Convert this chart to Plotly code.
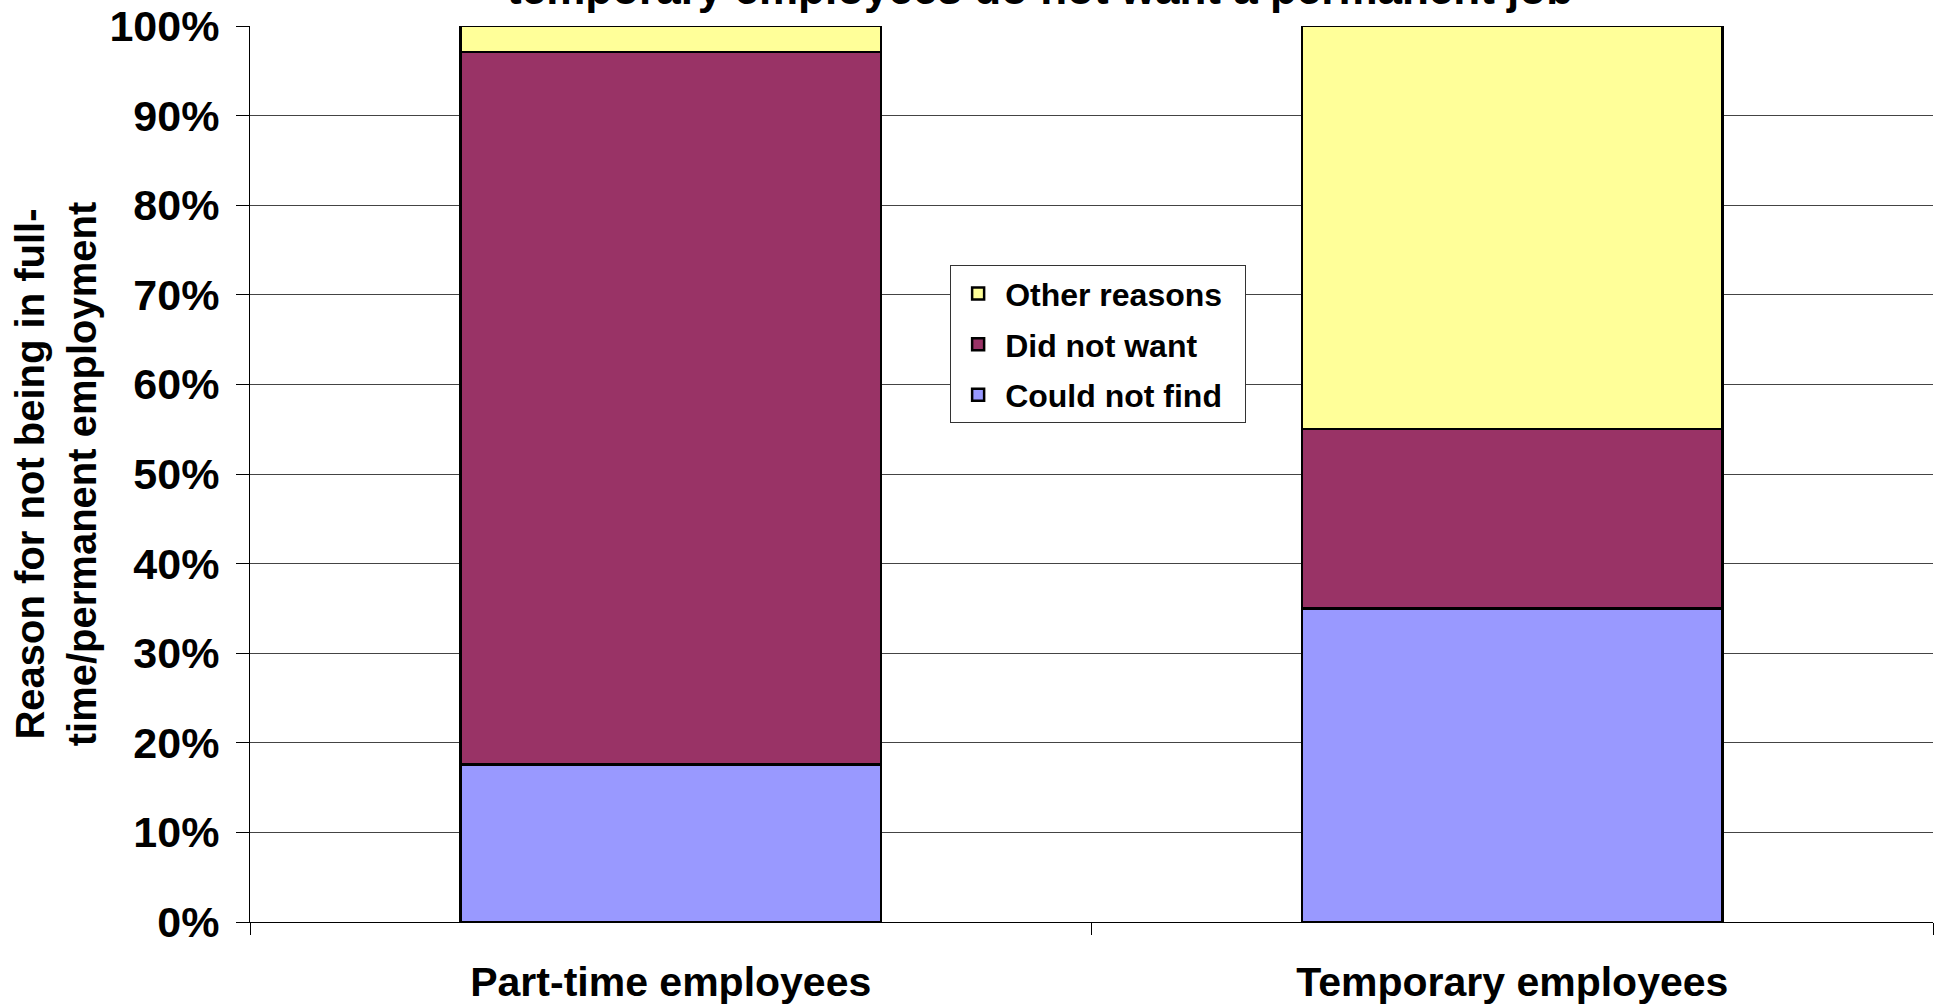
import plotly.graph_objects as go

categories = ["Part-time employees", "Temporary employees"]
could_not_find = [17.6, 35.0]
did_not_want = [79.5, 20.0]
other_reasons = [2.9, 45.0]
y_ticks = [0, 10, 20, 30, 40, 50, 60, 70, 80, 90, 100]
y_tick_labels = [f"{v}%" for v in y_ticks]

FONT = "Liberation Sans, Arial, sans-serif"
W, H = 1935, 1006
L, R, T, B = 250, 2, 26, 84

series = [
    ("Could not find", could_not_find, "#9999FF", 3),
    ("Did not want", did_not_want, "#993366", 2),
    ("Other reasons", other_reasons, "#FFFF99", 1),
]

fig = go.Figure()
for name, vals, color, rank in series:
    fig.add_trace(go.Bar(
        x=categories, y=vals, name=f"<b>{name}</b>\u00a0\u00a0", legendgroup=name,
        legendrank=rank,
        marker=dict(color=color, line=dict(color="#000000", width=2.5)),
        width=0.5,
    ))

fig.update_layout(
    width=W, height=H,
    barmode="stack",
    plot_bgcolor="#FFFFFF", paper_bgcolor="#FFFFFF",
    margin=dict(l=L, r=R, t=T, b=B, autoexpand=False),
    font=dict(family=FONT, color="#000000"),
    title=dict(
        text="<b>temporary employees do not want a permanent job</b>",
        font=dict(family=FONT, size=44, color="#000000"),
        x=0.5375, xanchor="center", xref="container",
        y=1 - 4 / H, yanchor="bottom", yref="container",
    ),
    legend=dict(
        x=0.416, y=0.733, xanchor="left", yanchor="top",
        bgcolor="#FFFFFF", bordercolor="#333333", borderwidth=1,
        font=dict(family=FONT, size=32, color="#000000"),
        traceorder="grouped", tracegroupgap=6,
        itemwidth=44,
    ),
    xaxis=dict(
        type="category",
        showgrid=False,
        showline=True, linecolor="#000000", linewidth=1,
        ticks="outside", tickson="boundaries", ticklen=12, tickcolor="#000000",
        tickfont=dict(family=FONT, size=41, color="#000000"),
        ticklabelstandoff=24,
        automargin=False,
    ),
    yaxis=dict(
        range=[0, 100],
        tickvals=y_ticks, ticktext=[f"<b>{t}</b>" for t in y_tick_labels],
        showgrid=True, gridcolor="#444444", gridwidth=1,
        showline=True, linecolor="#000000", linewidth=1,
        ticks="outside", ticklen=13, tickcolor="#000000",
        tickfont=dict(family=FONT, size=43, color="#000000"),
        ticklabelstandoff=8,
        zeroline=False,
        automargin=False,
        title=dict(
            text="<b>Reason for not being in full-<br>time/permanent employment</b>",
            font=dict(family=FONT, size=40, color="#000000"),
            standoff=0,
        ),
    ),
)
fig.update_xaxes(ticktext=[f"<b>{c}</b>" for c in categories], tickvals=categories)

fig.write_html(
    "out.html",
    config={"displayModeBar": False},
    post_script="document.body.style.margin='0';document.body.style.overflow='hidden';",
)
